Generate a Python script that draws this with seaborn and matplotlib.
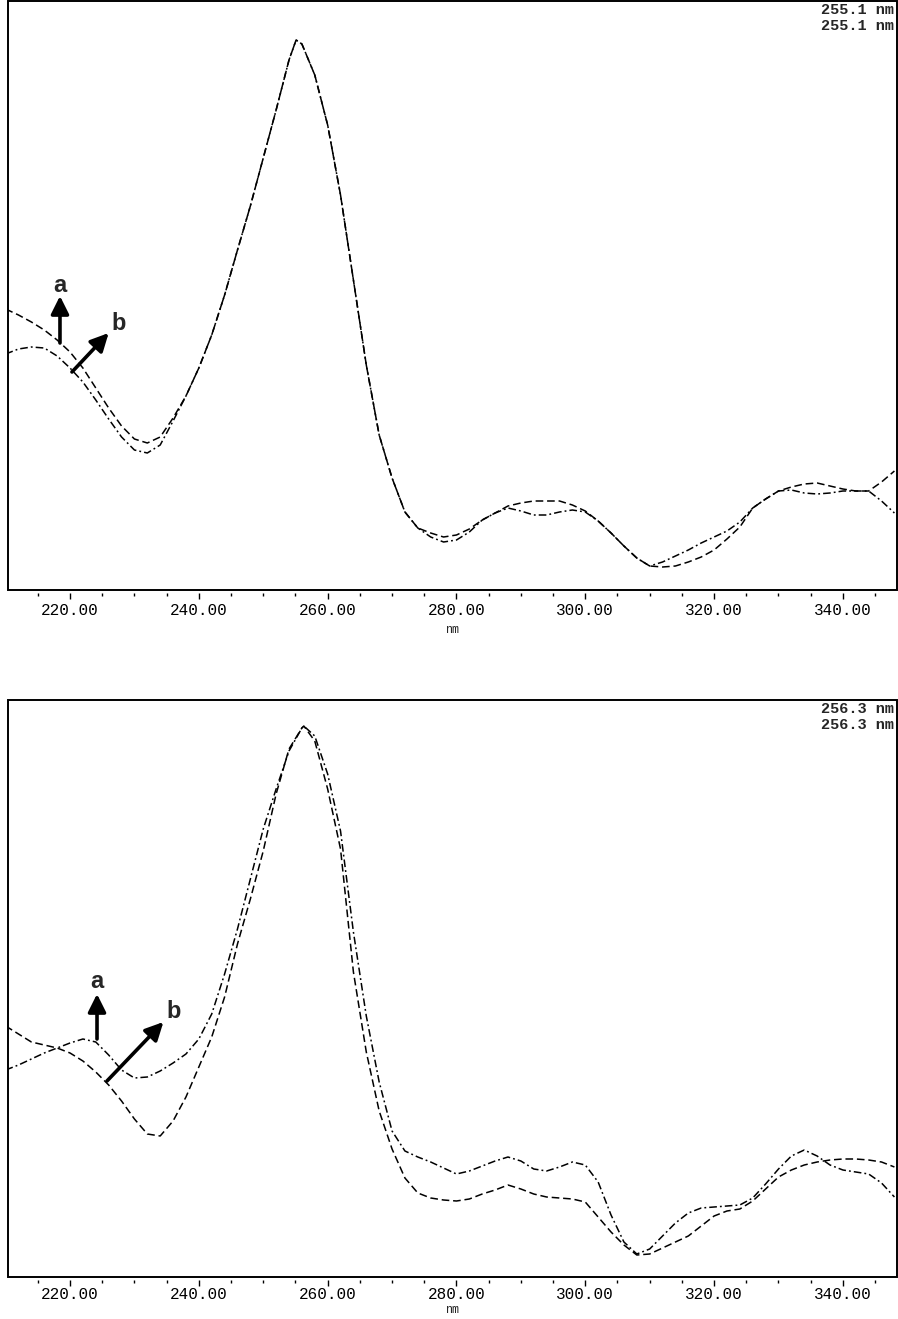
import matplotlib
matplotlib.use("Agg")
import matplotlib.pyplot as plt
from matplotlib.patches import Rectangle
from matplotlib.ticker import MultipleLocator, FormatStrFormatter
import seaborn as sns
import pandas as pd

# ---------------- data (relative absorbance units) ----------------
wl_top = [210, 212, 214, 216, 218, 220, 222, 224, 226, 228, 230, 232, 234, 236, 238,
          240, 242, 244, 246, 248, 250, 252, 254, 255.1, 256, 258, 260, 262, 264, 266,
          268, 270, 272, 274, 276, 278, 280, 282, 284, 286, 288, 290, 292, 294, 296,
          298, 300, 302, 304, 306, 308, 310, 312, 314, 316, 318, 320, 322, 324, 326,
          328, 330, 332, 334, 336, 338, 340, 342, 344, 346, 348]
top_a = [281, 275, 268, 260, 250, 238, 222, 202, 182, 164, 151, 147, 153, 172, 194,
         222, 255, 295, 340, 384, 432, 480, 530, 550, 546, 515, 465, 395, 310, 225,
         155, 112, 78, 62, 57, 53, 55, 61, 70, 77, 84, 87, 89, 89, 89,
         85, 79, 69, 57, 44, 32, 24, 23, 24, 28, 33, 40, 51, 63, 82,
         91, 99, 103, 106, 107, 104, 101, 99, 99, 108, 119]
top_b = [236, 241, 243, 242, 234, 222, 208, 190, 171, 153, 140, 137, 145, 169, 194,
         222, 255, 295, 340, 384, 432, 480, 530, 550, 546, 515, 465, 395, 310, 225,
         155, 112, 78, 62, 53, 48, 50, 58, 70, 77, 82, 79, 75, 75, 78,
         80, 78, 69, 57, 44, 32, 24, 28, 34, 40, 47, 53, 59, 68, 82,
         91, 99, 100, 97, 96, 97, 99, 99, 99, 89, 77]

wl_bot = [210, 212, 214, 216, 218, 220, 222, 224, 226, 228, 230, 232, 234, 236, 238,
          240, 242, 244, 246, 248, 250, 252, 254, 256, 256.3, 258, 260, 262, 264, 266,
          268, 270, 272, 274, 276, 278, 280, 282, 284, 286, 288, 290, 292, 294, 296,
          298, 300, 302, 304, 306, 308, 310, 312, 314, 316, 318, 320, 322, 324, 326,
          328, 330, 332, 334, 336, 338, 340, 342, 344, 346, 348]
bot_a = [207, 212, 218, 224, 229, 234, 238, 235, 222, 207, 199, 200, 206, 214, 223,
         238, 263, 303, 348, 398, 448, 488, 526, 549, 551, 541, 503, 446, 345, 261,
         195, 146, 126, 120, 115, 109, 103, 106, 111, 116, 120, 116, 108, 106, 110,
         115, 112, 95, 62, 35, 23, 28, 41, 54, 64, 69, 70, 71, 72, 79,
         93, 108, 121, 127, 121, 112, 107, 105, 103, 94, 80]
bot_b = [251, 243, 235, 232, 229, 224, 216, 205, 192, 176, 158, 143, 141, 156, 180,
         210, 240, 280, 333, 378, 426, 483, 528, 549, 551, 536, 488, 428, 305, 225,
         166, 128, 99, 84, 79, 77, 76, 78, 83, 87, 92, 88, 83, 80, 79,
         78, 75, 60, 45, 32, 22, 23, 29, 35, 41, 51, 61, 66, 68, 76,
         88, 100, 107, 112, 115, 117, 118, 118, 117, 115, 110]

peak_top = "255.1 nm"
peak_bot = "256.3 nm"
x_ticks = [220, 240, 260, 280, 300, 320, 340]
x_label = "nm"

# ---------------- styling ----------------
sns.set_theme(style="white")
plt.rcParams["font.family"] = ["Liberation Mono", "DejaVu Sans"]

W, H = 898, 1319
fig = plt.figure(figsize=(W / 100, H / 100), dpi=100)

ax_top = fig.add_axes([8 / W, 1 - 590 / H, 889 / W, 589 / H])
ax_bot = fig.add_axes([8 / W, 1 - 1277 / H, 889 / W, 577 / H])

dash_a = (0, (5, 2.5))
dash_b = (0, (5, 2, 1.2, 2))

def draw_panel(ax, wl, ya, yb, ymax, label, ls_a, ls_b, tpad, lpad):
    df = pd.DataFrame({"wl": wl, "a": ya, "b": yb})
    sns.lineplot(data=df, x="wl", y="a", ax=ax, color="black", lw=1.1,
                 linestyle=ls_a, sort=False)
    sns.lineplot(data=df, x="wl", y="b", ax=ax, color="black", lw=1.1,
                 linestyle=ls_b, sort=False)
    ax.set_xlim(210.37, 348.4)
    ax.set_ylim(0, ymax)
    ax.set_ylabel("")
    ax.set_yticks([])
    ax.set_xlabel(x_label, fontsize=8.5, labelpad=lpad)
    ax.set_xticks(x_ticks)
    ax.xaxis.set_minor_locator(MultipleLocator(5))
    ax.xaxis.set_major_formatter(FormatStrFormatter("%.2f"))
    ax.tick_params(axis="x", which="major", direction="out", length=4, width=1.0,
                   pad=tpad, labelsize=11.5, bottom=True, colors="black")
    ax.tick_params(axis="x", which="minor", direction="out", length=2.2, width=1.0,
                   bottom=True, colors="black")
    for s in ax.spines.values():
        s.set_visible(False)
    ax.spines["bottom"].set_position(("outward", 2.5))
    ax.add_patch(Rectangle((0, 0), 1, 1, transform=ax.transAxes, fill=False,
                           lw=1.4, edgecolor="black", clip_on=False, zorder=5))
    hpx = ax.get_position().height * H
    ax.text(0.997, 1 - 2 / hpx, label, transform=ax.transAxes, ha="right", va="top",
            fontsize=11, fontweight="bold", family="Liberation Mono")
    ax.text(0.997, 1 - 18 / hpx, label, transform=ax.transAxes, ha="right", va="top",
            fontsize=11, fontweight="bold", family="Liberation Mono")

draw_panel(ax_top, wl_top, top_a, top_b, 589, peak_top, dash_a, dash_b, 3, 4)
draw_panel(ax_bot, wl_bot, bot_a, bot_b, 577, peak_bot, dash_b, dash_a, 1, 1)

arrow_kw = dict(arrowstyle="-|>,head_length=0.9,head_width=0.45", lw=2.6,
                color="black", shrinkA=0, shrinkB=0)
lab_kw = dict(fontsize=17, fontweight="bold", family="Liberation Sans",
              ha="center", va="center")

# top panel arrows
ax_top.annotate("", xy=(218.44, 294), xytext=(218.44, 247), arrowprops=arrow_kw)
ax_top.text(218.44, 305, "a", **lab_kw)
ax_top.annotate("", xy=(226.0, 257), xytext=(220.3, 218), arrowprops=arrow_kw)
ax_top.text(227.6, 267, "b", **lab_kw)

# bottom panel arrows
ax_bot.annotate("", xy=(224.19, 283), xytext=(224.19, 238), arrowprops=arrow_kw)
ax_bot.text(224.19, 295, "a", **lab_kw)
ax_bot.annotate("", xy=(234.5, 255), xytext=(225.74, 196), arrowprops=arrow_kw)
ax_bot.text(236.1, 266, "b", **lab_kw)

fig.savefig("out.png", dpi=100)
